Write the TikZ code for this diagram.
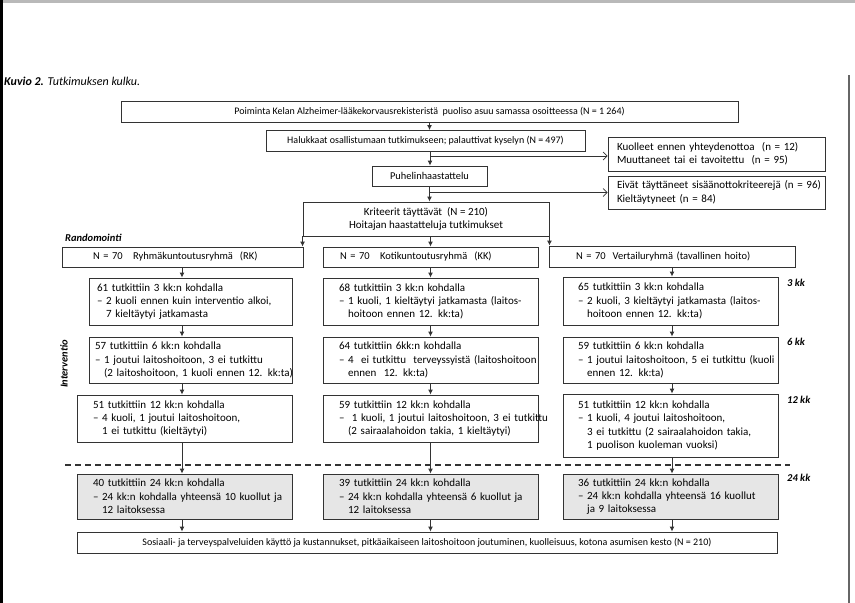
\documentclass[tikz,border=0pt]{standalone}
\usepackage{fontspec}
\setmainfont{Carlito}
\usetikzlibrary{arrows.meta}
\definecolor{ln}{HTML}{333333}
\definecolor{gfill}{HTML}{E6E6E6}
\begin{document}
\begin{tikzpicture}[x=1pt,y=-1pt,
  txt/.style={font=\fontsize{10}{13.3}\selectfont},
  rtxt/.style={font=\fontsize{11}{13.3}\selectfont},
  cbox/.style={draw=ln, line width=0.9pt, inner sep=0pt, txt, align=center},
  lbox/.style={draw=ln, line width=0.9pt, inner ysep=0pt, rtxt, align=left},
  hbox/.style={lbox, font=\fontsize{10.5}{13.3}\selectfont},
  gbox/.style={lbox, fill=gfill},
  arr/.style={draw=ln, line width=0.9pt, -{Latex[length=5pt,width=5pt]}},
  sarr/.style={draw=ln, line width=0.7pt, -{Straight Barb[length=4pt,width=8pt]}},
  tlab/.style={font=\fontsize{10.5}{12}\selectfont\bfseries\itshape, anchor=west, inner sep=0pt},
  dash line/.style={draw=ln, line width=1.3pt, dash pattern=on 6pt off 4pt}
]
\useasboundingbox (0,0) rectangle (855,603);
% screen edges
\fill[gray!55] (0,0) rectangle (855,3);
\fill[black] (0,0) rectangle (3,603);
\draw[gray!80!black, line width=1.5pt] (849,75) -- (849,603);

\node[anchor=west, inner sep=0pt, font=\fontsize{12}{14}\selectfont\itshape] (cap) at (4,81) {\textbf{Kuvio 2.} Tutkimuksen kulku.};

% top chain
\node[cbox, minimum width=617pt, minimum height=21pt] (b1) at (429.5,111.5)
  {Poiminta Kelan Alzheimer-lääkekorvausrekisteristä\ \ puoliso asuu samassa osoitteessa (N = 1 264)};
\node[cbox, minimum width=319pt, minimum height=21pt] (b2) at (425.5,141)
  {Halukkaat osallistumaan tutkimukseen; palauttivat kyselyn (N = 497)};
\node[cbox, minimum width=115pt, minimum height=20pt, font=\fontsize{10.4}{13.3}\selectfont] (b3) at (429.5,176)
  {Puhelinhaastattelu};
\node[cbox, minimum width=246pt, minimum height=34pt, font=\fontsize{11}{13.3}\selectfont] (b4) at (426,219)
  {Kriteerit täyttävät\ \ (N = 210)\\Hoitajan haastatteluja tutkimukset};
\node[lbox, inner xsep=9pt, text width=199pt, minimum height=34pt] (sa) at (716.5,154)
  {\mbox{Kuolleet ennen yhteydenottoa\ \ (n = 12)}\\\mbox{Muuttaneet tai ei tavoitettu\ \ (n = 95)}};
\node[lbox, inner xsep=9pt, text width=199pt, minimum height=33pt] (sb) at (716.5,192.5)
  {\mbox{Eivät täyttäneet sisäänottokriteerejä (n = 96)}\\\mbox{Kieltäytyneet (n = 84)}};

\coordinate (c0) at (430,0);
\coordinate (j1) at (430,156);
\coordinate (j2) at (430,192.5);
\draw[arr] (b1.south) -- (b1.south |- b2.north);
\draw[arr] (c0 |- b2.south) -- (c0 |- b3.north);
\draw[arr] (b3.south) -- (b3.south |- b4.north);
\draw[sarr] (j1) -- (j1 -| sa.west);
\draw[sarr] (j2) -- (j2 -| sb.west);

% group headers
\node[hbox, inner xsep=31pt, text width=179pt, minimum height=20pt] (rk) at (182.5,257)
  {\mbox{N = 70\ \ \ Ryhmäkuntoutusryhmä\ \ (RK)}};
\node[hbox, inner xsep=17pt, text width=181pt, minimum height=20pt] (kk) at (430.5,257)
  {\mbox{N = 70\ \ \ Kotikuntoutusryhmä\ \ (KK)}};
\node[hbox, inner xsep=27pt, text width=192pt, minimum height=21pt] (vr) at (672,256.5)
  {\mbox{N = 70\ \ Vertailuryhmä (tavallinen hoito)}};

\draw[arr] (b4.south west) -- (b4.south west |- rk.north);
\draw[arr] (kk.north |- b4.south) -- (kk.north);
\draw[arr] (b4.south east) -- (b4.south east |- vr.north);

% column x
\coordinate (cA) at (182,0);
\coordinate (cB) at (430.5,0);
\coordinate (cC) at (672,0);

% 3 kk
\node[lbox, inner xsep=8pt, text width=187pt, minimum height=47pt] (rk3) at (190.5,301.5)
  {\mbox{61 tutkittiin 3 kk:n kohdalla}\\\mbox{– 2 kuoli ennen kuin interventio alkoi,}\\\mbox{\phantom{– }7 kieltäytyi jatkamasta}};
\node[lbox, inner xsep=16pt, text width=183pt, minimum height=47pt] (kk3) at (430.5,301.5)
  {\mbox{68 tutkittiin 3 kk:n kohdalla}\\\mbox{– 1 kuoli, 1 kieltäytyi jatkamasta (laitos-}\\\mbox{\phantom{– }hoitoon ennen 12. kk:ta)}};
\node[lbox, inner xsep=15pt, text width=185pt, minimum height=48pt] (vr3) at (670.5,301)
  {\mbox{65 tutkittiin 3 kk:n kohdalla}\\\mbox{– 2 kuoli, 3 kieltäytyi jatkamasta (laitos-}\\\mbox{\phantom{– }hoitoon ennen 12. kk:ta)}};

% 6 kk
\node[lbox, inner xsep=6pt, text width=191pt, minimum height=46pt] (rk6) at (190.5,360)
  {\mbox{57 tutkittiin 6 kk:n kohdalla}\\\mbox{– 1 joutui laitoshoitoon, 3 ei tutkittu}\\\mbox{\phantom{– }(2 laitoshoitoon, 1 kuoli ennen 12. kk:ta)}};
\node[lbox, inner xsep=16pt, text width=183pt, minimum height=46pt] (kk6) at (430.5,360)
  {\mbox{64 tutkittiin 6kk:n kohdalla}\\\mbox{– 4\ \ ei tutkittu\ \ terveyssyistä (laitoshoitoon}\\\mbox{\phantom{– }ennen\ \ 12. kk:ta)}};
\node[lbox, inner xsep=15pt, text width=185pt, minimum height=46pt] (vr6) at (670.5,360)
  {\mbox{59 tutkittiin 6 kk:n kohdalla}\\\mbox{– 1 joutui laitoshoitoon, 5 ei tutkittu (kuoli}\\\mbox{\phantom{– }ennen 12. kk:ta)}};

% 12 kk
\node[lbox, inner xsep=16pt, text width=183pt, minimum height=47pt] (rk12) at (184.5,418.5)
  {\mbox{51 tutkittiin 12 kk:n kohdalla}\\\mbox{– 4 kuoli, 1 joutui laitoshoitoon,}\\\mbox{\phantom{– }1 ei tutkittu (kieltäytyi)}};
\node[lbox, inner xsep=16pt, text width=183pt, minimum height=47pt] (kk12) at (430.5,418.5)
  {\mbox{59 tutkittiin 12 kk:n kohdalla}\\\mbox{–\ \ 1 kuoli, 1 joutui laitoshoitoon, 3 ei tutkittu}\\\mbox{\phantom{– }(2 sairaalahoidon takia, 1 kieltäytyi)}};
\node[lbox, inner xsep=15pt, text width=185pt, minimum height=63pt] (vr12) at (670.5,425.5)
  {\mbox{51 tutkittiin 12 kk:n kohdalla}\\\mbox{– 1 kuoli, 4 joutui laitoshoitoon,}\\\mbox{\phantom{– }3 ei tutkittu (2 sairaalahoidon takia,}\\\mbox{\phantom{– }1 puolison kuoleman vuoksi)}};

% dashed separator
\coordinate (dl) at (65,465);
\coordinate (dr) at (790,465);
\draw[dash line] (dl) -- (dr);

% 24 kk
\node[gbox, inner xsep=16pt, text width=183pt, minimum height=45pt] (rk24) at (184.5,496.5)
  {\mbox{40 tutkittiin 24 kk:n kohdalla}\\\mbox{– 24 kk:n kohdalla yhteensä 10 kuollut ja}\\\mbox{\phantom{– }12 laitoksessa}};
\node[gbox, inner xsep=16pt, text width=183pt, minimum height=45pt] (kk24) at (430.5,496.5)
  {\mbox{39 tutkittiin 24 kk:n kohdalla}\\\mbox{– 24 kk:n kohdalla yhteensä 6 kuollut ja}\\\mbox{\phantom{– }12 laitoksessa}};
\node[gbox, inner xsep=15pt, text width=185pt, minimum height=45pt] (vr24) at (670.5,496.5)
  {\mbox{36 tutkittiin 24 kk:n kohdalla}\\\mbox{– 24 kk:n kohdalla yhteensä 16 kuollut}\\\mbox{\phantom{– }ja 9 laitoksessa}};

% final
\node[cbox, minimum width=700pt, minimum height=21pt] (fin) at (427,542.5)
  {Sosiaali- ja terveyspalveluiden käyttö ja kustannukset, pitkäaikaiseen laitoshoitoon joutuminen, kuolleisuus, kotona asumisen kesto (N = 210)};

% vertical arrows in columns
\foreach \c/\n in {cA/rk,cB/kk,cC/vr}{
  \draw[arr] (\c |- \n.south) -- (\c |- \n3.north);
  \draw[arr] (\c |- \n3.south) -- (\c |- \n6.north);
  \draw[arr] (\c |- \n6.south) -- (\c |- \n12.north);
  \draw[arr] (\c |- \n12.south) -- (\c |- \n24.north);
  \draw[arr] (\c |- \n24.south) -- (\c |- fin.north);
}

% side labels
\node[tlab] (l3) at (787,283) {3 kk};
\node[tlab] (l6) at (787,342) {6 kk};
\node[tlab] (l12) at (787,400) {12 kk};
\node[tlab] (l24) at (787,478) {24 kk};
\node[tlab] (rnd) at (65,238) {Randomointi};
\node[tlab, anchor=center, rotate=90] (int) at (64,364) {Interventio};
\end{tikzpicture}
\end{document}
